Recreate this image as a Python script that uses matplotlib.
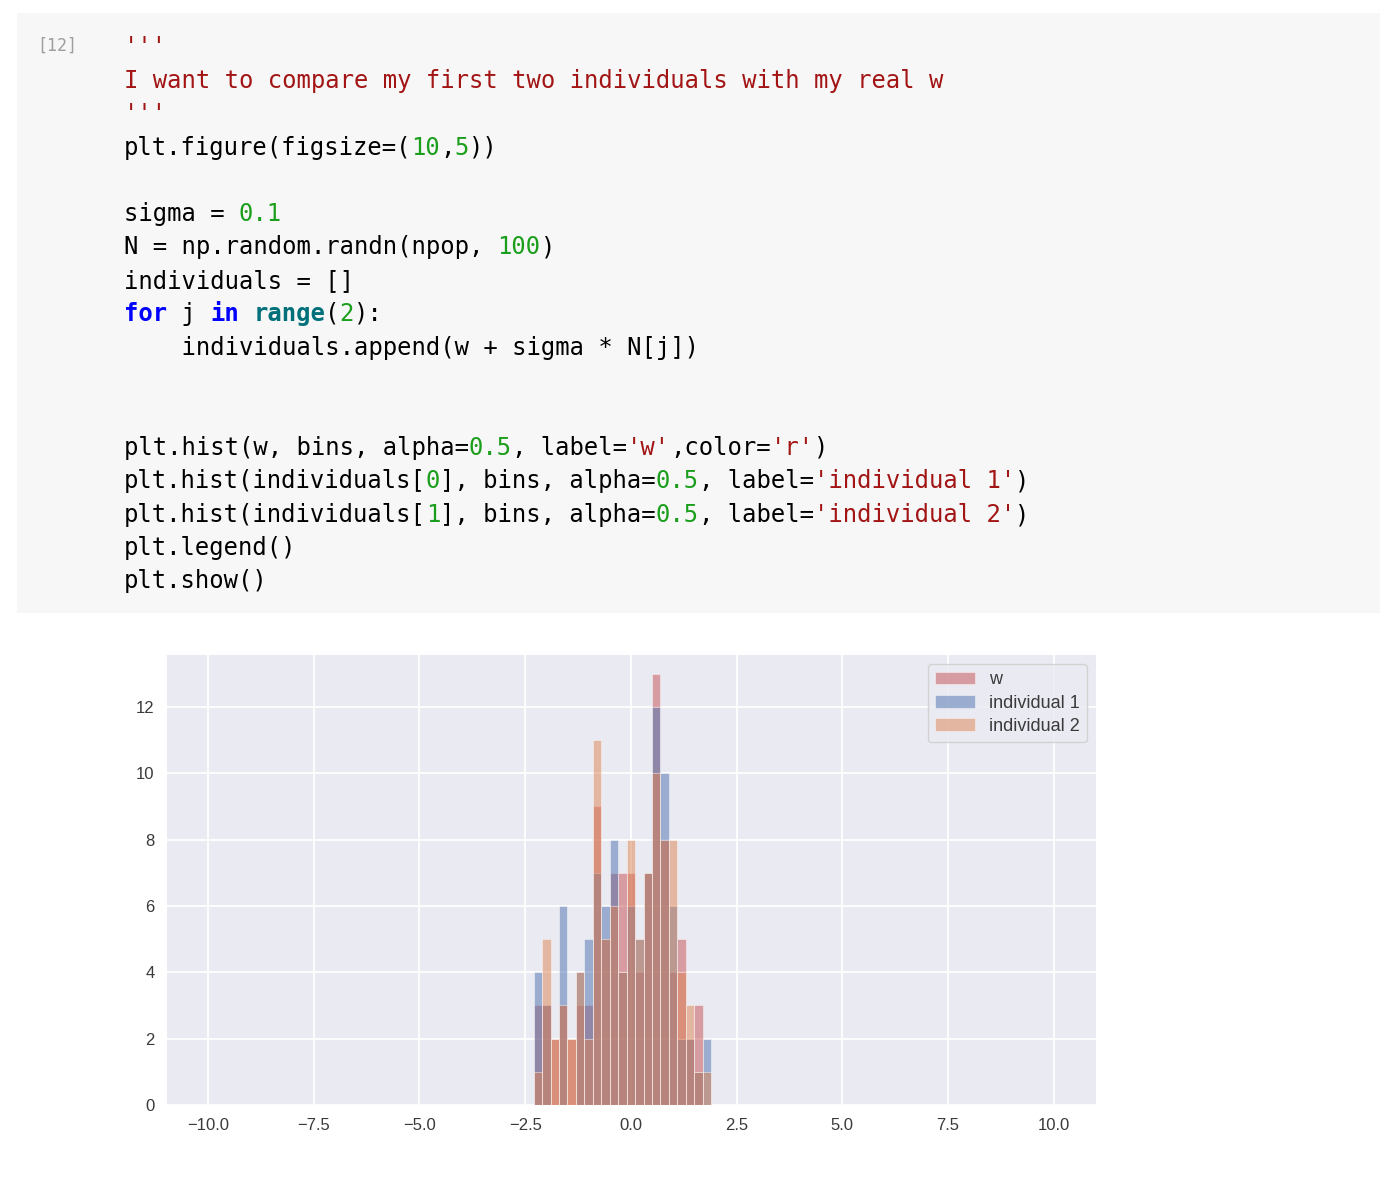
import numpy as np
import matplotlib
matplotlib.use("Agg")
import matplotlib.pyplot as plt
from matplotlib.patches import Rectangle

bin_edges = [-2.3, -2.1, -1.9, -1.7, -1.5, -1.3, -1.1, -0.9, -0.7, -0.5, -0.3, -0.1,
             0.1, 0.3, 0.5, 0.7, 0.9, 1.1, 1.3, 1.5, 1.7, 1.9]
w_counts = [3, 3, 2, 3, 2, 3, 3, 9, 5, 7, 7, 7, 4, 7, 13, 8, 4, 5, 2, 3, 0]
ind1_counts = [4, 3, 0, 6, 0, 4, 5, 7, 6, 8, 4, 6, 5, 7, 12, 10, 6, 2, 2, 1, 2]
ind2_counts = [1, 5, 2, 3, 2, 4, 2, 11, 5, 6, 4, 8, 5, 7, 10, 8, 8, 4, 3, 1, 1]
series_labels = ["w", "individual 1", "individual 2"]
xticks = [-10.0, -7.5, -5.0, -2.5, 0.0, 2.5, 5.0, 7.5, 10.0]
yticks = [0, 2, 4, 6, 8, 10, 12]

W, H = 1400, 1185
fig = plt.figure(figsize=(W / 100, H / 100), dpi=100)
fig.patch.set_facecolor("white")

fig.patches.append(Rectangle((17 / W, 1 - 613 / H), (1380 - 17) / W, 600 / H,
                             transform=fig.transFigure, facecolor="#f7f7f7",
                             edgecolor="none", zorder=0))
fig.text(37 / W, 1 - 46 / H, "[12]", family="DejaVu Sans Mono", fontsize=12,
         color="#9e9e9e", va="center")

K, S, N_, KW, BI = "#000000", "#a31515", "#1b9e1b", "#0000ff", "#00707a"
code_lines = [
    (47, [("'''", S)]),
    (81, [("I want to compare my first two individuals with my real w", S)]),
    (114, [("'''", S)]),
    (148, [("plt.figure(figsize=(", K), ("10", N_), (",", K), ("5", N_), ("))", K)]),
    (214, [("sigma = ", K), ("0.1", N_)]),
    (247, [("N = np.random.randn(npop, ", K), ("100", N_), (")", K)]),
    (281, [("individuals = []", K)]),
    (314, [("for", KW, "bold"), (" j ", K), ("in", KW, "bold"), (" ", K),
           ("range", BI, "bold"), ("(", K), ("2", N_), ("):", K)]),
    (348, [("    individuals.append(w + sigma * N[j])", K)]),
    (448, [("plt.hist(w, bins, alpha=", K), ("0.5", N_), (", label=", K), ("'w'", S),
           (",color=", K), ("'r'", S), (")", K)]),
    (481, [("plt.hist(individuals[", K), ("0", N_), ("], bins, alpha=", K), ("0.5", N_),
           (", label=", K), ("'individual 1'", S), (")", K)]),
    (515, [("plt.hist(individuals[", K), ("1", N_), ("], bins, alpha=", K), ("0.5", N_),
           (", label=", K), ("'individual 2'", S), (")", K)]),
    (548, [("plt.legend()", K)]),
    (581, [("plt.show()", K)]),
]
cw = 14.37
for y, segs in code_lines:
    col = 0
    for seg in segs:
        txt, c = seg[0], seg[1]
        wt = seg[2] if len(seg) > 2 else "normal"
        fig.text((124 + col * cw) / W, 1 - y / H, txt, family="DejaVu Sans Mono",
                 fontsize=17.2, color=c, weight=wt, va="center")
        col += len(txt)

ax = fig.add_axes([167 / W, 1 - 1105 / H, (1096 - 167) / W, (1105 - 655) / H])
ax.set_facecolor("#eaeaf2")
for s in ax.spines.values():
    s.set_visible(False)
ax.grid(True, color="white", linewidth=1.3)
ax.set_axisbelow(True)

edges = np.array(bin_edges)
lefts = edges[:-1]
widths = np.diff(edges)
colors = [(0.77, 0.31, 0.32), (0.298, 0.447, 0.69), (0.867, 0.518, 0.322)]
for counts, col, lab in zip([w_counts, ind1_counts, ind2_counts], colors, series_labels):
    ax.bar(lefts, counts, width=widths, align="edge", color=col, alpha=0.5,
           edgecolor="white", linewidth=0.6, label=lab)

ax.set_xlim(-10.97, 11.0)
ax.set_ylim(0, 13.56)
ax.set_xticks(xticks)
ax.set_xticklabels([f"{v:.1f}".replace("-", "\u2212") for v in xticks])
ax.set_yticks(yticks)
ax.tick_params(length=0, labelsize=12, labelcolor="#3a3a3a", pad=9)
for t in ax.get_xticklabels() + ax.get_yticklabels():
    t.set_family(["Liberation Sans", "DejaVu Sans"])
leg = ax.legend(loc="upper right", prop={"family": ["Liberation Sans", "DejaVu Sans"], "size": 13},
                frameon=True, facecolor="#eaeaf2",
                edgecolor="#cccccc", handlelength=2.2, borderpad=0.4, labelspacing=0.35)
for t in leg.get_texts():
    t.set_color("#3a3a3a")

fig.savefig("out.png", dpi=100)
